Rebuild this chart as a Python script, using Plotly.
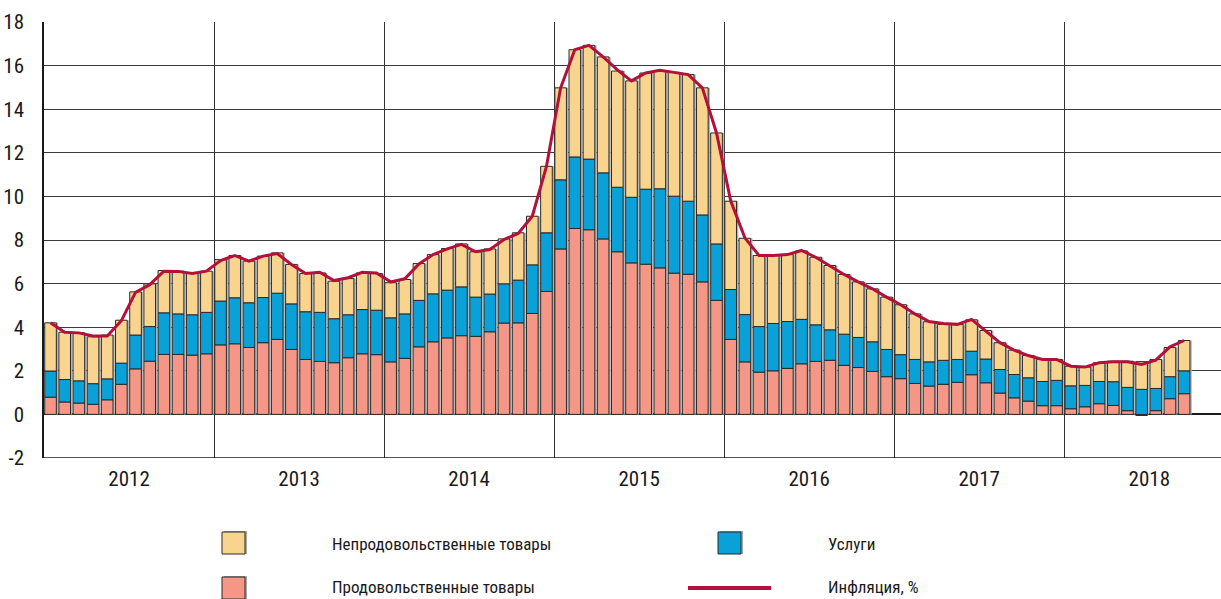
import plotly.graph_objects as go

# ---- data (contributions to annual inflation, p.p.) ----
months = list(range(81))  # Jan 2012 .. Sep 2018
year_labels = ["2012", "2013", "2014", "2015", "2016", "2017", "2018"]
y_ticks = [-2, 0, 2, 4, 6, 8, 10, 12, 14, 16, 18]
y_tick_text = ["-2", "0", "2", "4", "6", "8", "10", "12", "14", "16", "18"]

food = [
    0.79, 0.57, 0.52, 0.46, 0.67, 1.38, 2.09, 2.44, 2.75, 2.75, 2.72, 2.78,
    3.19, 3.24, 3.07, 3.29, 3.44, 2.98, 2.52, 2.43, 2.37, 2.60, 2.78, 2.74,
    2.41, 2.57, 3.10, 3.33, 3.51, 3.61, 3.58, 3.79, 4.19, 4.20, 4.63, 5.64,
    7.59, 8.53, 8.47, 8.05, 7.46, 6.95, 6.89, 6.72, 6.48, 6.43, 6.08, 5.23,
    3.44, 2.41, 1.94, 2.00, 2.11, 2.32, 2.43, 2.48, 2.25, 2.15, 1.97, 1.73,
    1.64, 1.42, 1.30, 1.38, 1.47, 1.82, 1.45, 0.98, 0.76, 0.61, 0.40, 0.40,
    0.26, 0.35, 0.49, 0.41, 0.17, -0.05, 0.17, 0.72, 0.95,
]
services = [
    1.20, 1.03, 1.02, 0.95, 0.96, 0.97, 1.55, 1.59, 1.91, 1.86, 1.85, 1.90,
    2.01, 2.11, 2.05, 2.07, 2.12, 2.09, 2.19, 2.25, 2.02, 1.97, 2.03, 2.04,
    2.02, 2.04, 2.13, 2.20, 2.19, 2.24, 1.80, 1.73, 1.80, 1.96, 2.23, 2.69,
    3.17, 3.28, 3.24, 3.03, 2.96, 3.01, 3.44, 3.63, 3.53, 3.35, 3.07, 2.59,
    2.29, 2.17, 2.09, 2.17, 2.15, 2.04, 1.68, 1.40, 1.43, 1.38, 1.36, 1.25,
    1.10, 1.10, 1.11, 1.10, 1.05, 1.08, 1.09, 1.08, 1.07, 1.07, 1.11, 1.16,
    1.05, 0.98, 1.02, 1.09, 1.07, 1.15, 1.02, 1.01, 1.05,
]
nonfood = [
    2.21, 2.17, 2.20, 2.15, 2.01, 1.97, 1.98, 1.96, 1.94, 1.96, 1.92, 1.89,
    1.90, 1.94, 1.91, 1.90, 1.85, 1.81, 1.75, 1.81, 1.72, 1.66, 1.68, 1.68,
    1.61, 1.58, 1.69, 1.80, 1.91, 1.97, 2.08, 2.07, 2.06, 2.17, 2.23, 3.05,
    4.22, 4.92, 5.22, 5.32, 5.33, 5.34, 5.33, 5.42, 5.68, 5.81, 5.83, 5.09,
    4.05, 3.50, 3.26, 3.12, 3.07, 3.14, 3.10, 2.95, 2.74, 2.55, 2.43, 2.40,
    2.29, 2.09, 1.84, 1.65, 1.61, 1.44, 1.31, 1.23, 1.12, 1.02, 1.01, 0.96,
    0.90, 0.84, 0.86, 0.94, 1.20, 1.27, 1.33, 1.34, 1.39,
]
inflation = [
    4.20, 3.77, 3.74, 3.60, 3.60, 4.30, 5.60, 5.95, 6.57, 6.56, 6.46, 6.57,
    7.06, 7.29, 7.03, 7.26, 7.38, 6.88, 6.46, 6.52, 6.14, 6.27, 6.52, 6.49,
    6.08, 6.22, 6.90, 7.33, 7.59, 7.80, 7.46, 7.56, 8.02, 8.30, 9.09, 11.38,
    14.98, 16.73, 16.93, 16.40, 15.80, 15.30, 15.66, 15.79, 15.69, 15.59, 14.98, 12.91,
    9.80, 8.10, 7.29, 7.29, 7.33, 7.52, 7.21, 6.83, 6.42, 6.08, 5.76, 5.38,
    5.03, 4.61, 4.26, 4.17, 4.13, 4.36, 3.82, 3.29, 2.95, 2.70, 2.52, 2.52,
    2.21, 2.17, 2.37, 2.41, 2.41, 2.29, 2.49, 3.10, 3.39,
]

names = ["Непродовольственные товары", "Услуги", "Продовольственные товары", "Инфляция, %"]
c_nonfood = "#F8D48E"
c_serv = "#09A1D7"
c_food = "#F59786"
c_line = "#B3103B"

FONT = "Roboto Condensed, Liberation Sans Narrow, DejaVu Sans Condensed, Roboto, sans-serif"

base_serv = [max(f, 0) for f in food]
base_nonfood = [b + s for b, s in zip(base_serv, services)]
total = [b + n for b, n in zip(base_nonfood, nonfood)]

W = 0.82
OFF = -0.45

fig = go.Figure()
# subtle shadow at the right of each bar
fig.add_trace(go.Bar(x=months, y=total, base=[0] * len(months), width=W, offset=OFF + 0.13,
                     marker=dict(color="#b5b5b5", line=dict(width=0)),
                     showlegend=False, hoverinfo="skip"))
fig.add_trace(go.Bar(x=months, y=food, width=W, offset=OFF, name=names[2],
                     marker=dict(color=c_food, line=dict(color="#2a2a2a", width=1))))
fig.add_trace(go.Bar(x=months, y=services, base=base_serv, width=W, offset=OFF, name=names[1],
                     marker=dict(color=c_serv, line=dict(color="#2a2a2a", width=1))))
fig.add_trace(go.Bar(x=months, y=nonfood, base=base_nonfood, width=W, offset=OFF, name=names[0],
                     marker=dict(color=c_nonfood, line=dict(color="#2a2a2a", width=1))))
fig.add_trace(go.Scatter(x=[m - 0.04 for m in months], y=inflation, mode="lines", name=names[3],
                         line=dict(color=c_line, width=3)))

L, T, B = 44, 22, 458
WIDTH, HEIGHT = 1221, 599
PW = WIDTH - L
PH = B - T
x_max = -0.5 + PW / 14.17

fig.update_layout(
    width=WIDTH, height=HEIGHT,
    margin=dict(l=L, r=0, t=T, b=HEIGHT - B),
    barmode="overlay",
    plot_bgcolor="white", paper_bgcolor="white",
    showlegend=False,
    font=dict(family=FONT, size=21, color="#1a1a1a"),
    xaxis=dict(
        range=[-0.5, x_max],
        tickmode="array",
        tickvals=[5.5 + 12 * i for i in range(len(year_labels))],
        ticktext=year_labels,
        showgrid=False, zeroline=False,
        showline=False, automargin=False,
        ticks="", ticklabelstandoff=6,
        minor=dict(tickmode="linear", tick0=-0.5, dtick=12, showgrid=True,
                   gridcolor="#333333", gridwidth=1, ticks=""),
    ),
    yaxis=dict(
        range=[-2, 18], tickmode="array", tickvals=y_ticks, ticktext=y_tick_text,
        showgrid=True, gridcolor="#3a3a3a", gridwidth=1,
        zeroline=True, zerolinecolor="#1a1a1a", zerolinewidth=1.5,
        showline=True, linecolor="#1a1a1a", linewidth=1.5,
        ticks="", ticklabelstandoff=14, automargin=False,
    ),
)

# bottom axis line at y = -2
fig.add_shape(type="line", xref="paper", yref="y", x0=0, x1=1, y0=-2, y1=-2,
              line=dict(color="#1a1a1a", width=1.5))


# ---- legend drawn manually (2x2 grid as in the reference) ----
def px(x):
    return (x - L) / PW


def py(y):
    return (B - y) / PH


swatches = [(222, 532, c_nonfood), (222, 577, c_food), (718, 532, c_serv)]
for x0, y0, col in swatches:
    fig.add_shape(type="rect", xref="paper", yref="paper",
                  x0=px(x0 + 2), x1=px(x0 + 25), y0=py(y0 - 1), y1=py(y0 + 22),
                  fillcolor="#a8a8a8", line=dict(width=0))
    fig.add_shape(type="rect", xref="paper", yref="paper",
                  x0=px(x0), x1=px(x0 + 23), y0=py(y0), y1=py(y0 + 22),
                  fillcolor=col, line=dict(color="#2a2a2a", width=1))
fig.add_shape(type="line", xref="paper", yref="paper",
              x0=px(688), x1=px(771), y0=py(588), y1=py(588),
              line=dict(color=c_line, width=4))

labels = [(330, 544, names[0]), (330, 587, names[2]), (826, 544, names[1]), (826, 587, names[3])]
for x0, yc, txt in labels:
    fig.add_annotation(x=px(x0), y=py(yc), xref="paper", yref="paper", text=txt,
                       showarrow=False, xanchor="left", yanchor="middle",
                       font=dict(family=FONT, size=17, color="#1a1a1a"))

fig.write_html("out.html", config={"displayModeBar": False},
               post_script="document.body.style.margin='0';")
